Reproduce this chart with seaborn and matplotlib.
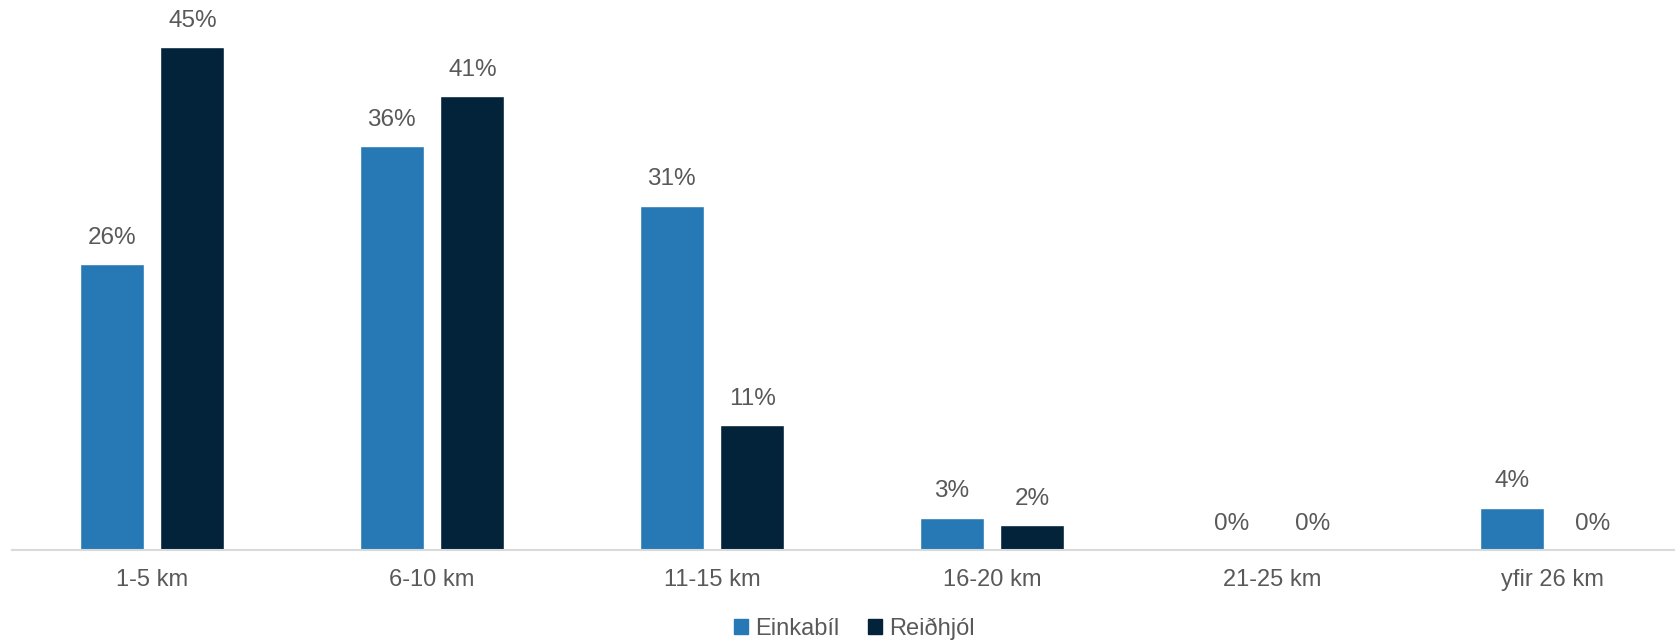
import matplotlib
matplotlib.use("Agg")
import matplotlib.pyplot as plt
import pandas as pd
import seaborn as sns

categories = ["1-5 km", "6-10 km", "11-15 km", "16-20 km", "21-25 km", "yfir 26 km"]
einkabil = [25.6, 36.1, 30.8, 2.9, 0.0, 3.8]
reidhjol = [45.0, 40.6, 11.2, 2.2, 0.0, 0.0]
series = ["Einkabíl", "Reiðhjól"]
colors = ["#2779B5", "#02233A"]

df = pd.DataFrame({
    "flokkur": categories * 2,
    "hlutfall": einkabil + reidhjol,
    "ferðamáti": [series[0]] * len(categories) + [series[1]] * len(categories),
})

sns.set_theme(style="white")
plt.rcParams["font.family"] = ["Liberation Sans", "DejaVu Sans"]
text_color = "#595959"

fig = plt.figure(figsize=(16.75, 6.42), dpi=100)
ax = fig.add_axes([12 / 1675, 92 / 642, 1680 / 1675, 550 / 642])

sns.barplot(data=df, x="flokkur", y="hlutfall", hue="ferðamáti",
            order=categories, hue_order=series, palette=colors,
            width=0.577, gap=0.21, ax=ax, legend=False, saturation=1)

for cont in ax.containers:
    ax.bar_label(cont, labels=[f"{v:.0f}%" for v in cont.datavalues],
                 padding=11, fontsize=17.5, color=text_color)

ax.set_ylim(0, 49.2)
ax.set_xlim(-0.5, len(categories) - 0.5)
ax.set_xlabel("")
ax.set_ylabel("")
ax.set_yticks([])
for side in ["top", "right", "left"]:
    ax.spines[side].set_visible(False)
ax.spines["bottom"].set_color("#d9d9d9")
ax.spines["bottom"].set_linewidth(1.5)
ax.tick_params(axis="x", length=0, pad=14, labelsize=17, labelcolor=text_color)

handles = [plt.Rectangle((0, 0), 1, 1, color=c) for c in colors]
fig.legend(handles, series, loc="lower center", bbox_to_anchor=(0.51, -0.03),
           ncol=2, frameon=False, fontsize=17, labelcolor=text_color,
           handlelength=0.6, handleheight=0.6, handletextpad=0.3, columnspacing=1.2)

fig.savefig("out.png", dpi=100)
